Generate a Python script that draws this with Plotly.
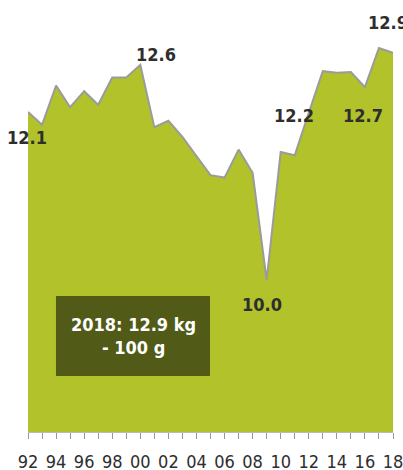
"""Per-capita consumption area chart, 1992-2018."""

import plotly.graph_objects as go

years = list(range(1992, 2019))
values = [
    12.10, 11.94, 12.43, 12.16, 12.36, 12.19, 12.53, 12.53, 12.69,
    11.91, 11.99, 11.79, 11.55, 11.31, 11.28, 11.63, 11.34, 10.00,
    11.60, 11.56, 12.09, 12.61, 12.59, 12.60, 12.41, 12.90, 12.84,
]
tick_labels = [str(y)[2:] if y % 2 == 0 else "" for y in years]

label_years = [1992, 2000, 2009, 2010, 2016, 2018]
label_texts = ["12.1", "12.6", "10.0", "12.2", "12.7", "12.9"]
box_text = "2018: 12.9 kg<br>- 100 g"

FILL = "#b1c22b"
LINE = "#9b9b9b"
BOX = "#515a17"
TEXT = "#2e2e2e"
FONT = "DejaVu Sans Condensed, Liberation Sans Narrow, Roboto, sans-serif"

# pixel offsets of the value labels from their points
offsets = {1992: (-1, -25), 2000: (16, 10), 2009: (-5, -24),
           2010: (13, 37), 2016: (-2, -28), 2018: (-5, 30)}

fig = go.Figure(
    go.Scatter(
        x=years,
        y=values,
        mode="lines",
        fill="tozeroy",
        fillcolor=FILL,
        line=dict(color=LINE, width=2),
        hoverinfo="x+y",
    )
)

for yr, txt in zip(label_years, label_texts):
    dx, dy = offsets[yr]
    fig.add_annotation(
        x=yr, y=values[years.index(yr)], text=f"<b>{txt}</b>",
        showarrow=False, xshift=dx, yshift=dy,
        xanchor="center", yanchor="middle",
        font=dict(family=FONT, size=18, color=TEXT),
    )

# dark box (placed in plot fractions)
fig.add_shape(
    type="rect", xref="paper", yref="paper",
    x0=0.0767, x1=0.4986, y0=0.132, y1=0.321,
    fillcolor=BOX, line_width=0, layer="above",
)
fig.add_annotation(
    xref="paper", yref="paper", x=0.2877, y=0.2265,
    xanchor="center", yanchor="middle",
    text=f"<b>{box_text}</b>", showarrow=False, align="center",
    font=dict(family=FONT, size=18, color="white"),
)

fig.update_layout(
    width=403,
    height=470,
    margin=dict(l=28, r=10, t=8, b=38, autoexpand=False),
    plot_bgcolor="white",
    paper_bgcolor="white",
    showlegend=False,
    xaxis=dict(
        range=[1992, 2018],
        tickvals=years,
        ticktext=tick_labels,
        ticks="outside",
        ticklen=6,
        tickcolor="#999999",
        showline=True,
        linecolor="#bbbbbb",
        linewidth=1,
        showgrid=False,
        zeroline=False,
        automargin=False,
        ticklabeloverflow="allow",
        tickfont=dict(family=FONT, size=18, color=TEXT),
        ticklabelstandoff=7,
    ),
    yaxis=dict(
        range=[8.1, 13.4],
        visible=False,
        showgrid=False,
        zeroline=False,
    ),
)

# drop the default 8px body margin so the figure fills the window
fig.write_html(
    "out.html",
    config={"displayModeBar": False},
    post_script="document.body.style.margin='0';document.body.style.overflow='hidden';",
)
